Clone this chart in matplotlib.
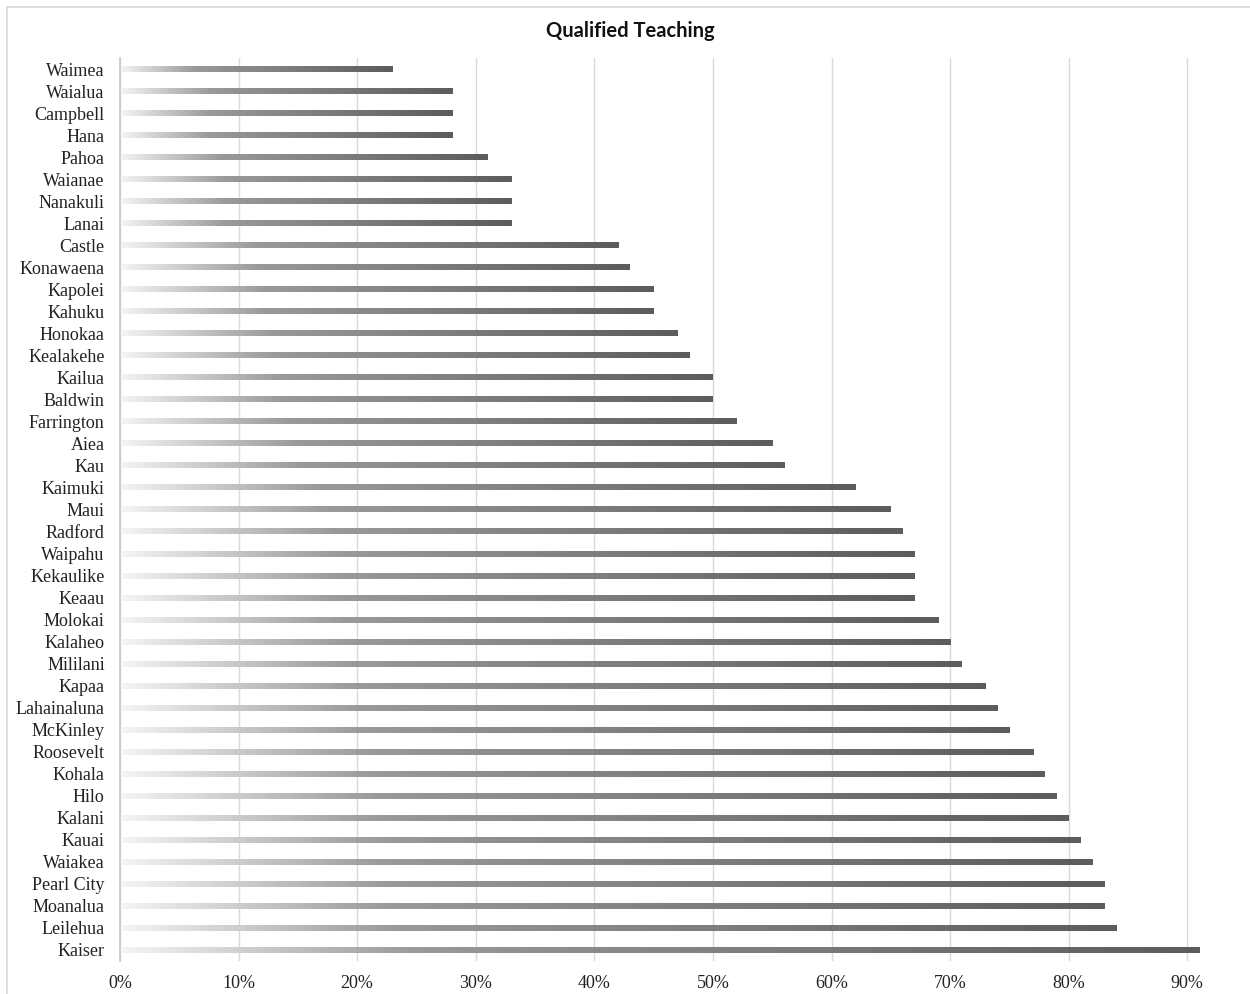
import numpy as np
import matplotlib.pyplot as plt
from matplotlib.colors import LinearSegmentedColormap
from matplotlib.patches import Rectangle
from matplotlib.ticker import PercentFormatter

schools = ['Waimea', 'Waialua', 'Campbell', 'Hana', 'Pahoa', 'Waianae', 'Nanakuli',
           'Lanai', 'Castle', 'Konawaena', 'Kapolei', 'Kahuku', 'Honokaa', 'Kealakehe',
           'Kailua', 'Baldwin', 'Farrington', 'Aiea', 'Kau', 'Kaimuki', 'Maui', 'Radford',
           'Waipahu', 'Kekaulike', 'Keaau', 'Molokai', 'Kalaheo', 'Mililani', 'Kapaa',
           'Lahainaluna', 'McKinley', 'Roosevelt', 'Kohala', 'Hilo', 'Kalani', 'Kauai',
           'Waiakea', 'Pearl City', 'Moanalua', 'Leilehua', 'Kaiser']
qualified = [0.23, 0.28, 0.28, 0.28, 0.31, 0.33, 0.33, 0.33, 0.42, 0.43, 0.45, 0.45,
             0.47, 0.48, 0.50, 0.50, 0.52, 0.55, 0.56, 0.62, 0.65, 0.66, 0.67, 0.67,
             0.67, 0.69, 0.70, 0.71, 0.73, 0.74, 0.75, 0.77, 0.78, 0.79, 0.80, 0.81,
             0.82, 0.83, 0.83, 0.84, 0.91]
ticks = np.arange(0, 1.0, 0.1)

# light-to-dark fill along each bar
fade = LinearSegmentedColormap.from_list(
    'fade', [(0.0, '#f4f4f4'), (0.27, '#9a9a9a'), (0.4, '#8e8e8e'), (1.0, '#5c5c5c')])
ramp = np.linspace(0, 1, 256).reshape(1, -1)

fig = plt.figure(figsize=(12.5, 9.94), dpi=100)
ax = fig.add_axes([120 / 1250, 1 - 961 / 994, 1110 / 1250, 903 / 994])

y = np.arange(len(schools))
bars = ax.barh(y, qualified, height=0.27, color='none', zorder=2)
for bar in bars:
    x0, y0 = bar.get_x(), bar.get_y()
    ax.imshow(ramp, cmap=fade, aspect='auto', interpolation='bilinear', zorder=2,
              extent=[x0, x0 + bar.get_width(), y0 + bar.get_height(), y0])

ax.set_ylim(len(schools) - 0.5, -0.5)
ax.set_xlim(0, 0.936)
ax.set_yticks(y)
ax.set_yticklabels(schools, family='Liberation Serif', fontsize=13)
ax.set_xticks(ticks)
ax.xaxis.set_major_formatter(PercentFormatter(1.0, decimals=0))
for lab in ax.get_xticklabels():
    lab.set_family('Liberation Serif')
    lab.set_fontsize(13)
ax.tick_params(axis='both', length=0, colors='#222222')
ax.tick_params(axis='x', pad=10)
ax.tick_params(axis='y', pad=11)

ax.grid(axis='x', color='#d9d9d9', linewidth=1, zorder=0)
ax.set_axisbelow(True)
for side in ['top', 'right', 'bottom']:
    ax.spines[side].set_visible(False)
ax.spines['left'].set_color('#c8c8c8')
ax.spines['left'].set_linewidth(1.2)

fig.text(630 / 1250, 1 - 31 / 994, 'Qualified Teaching', ha='center', va='center',
         family='Lato', fontweight='bold', fontsize=14.5, color='#111111')

# outer chart frame
fig.add_artist(Rectangle((7 / 1250, -0.1), 1.2, 1 - 7 / 994 + 0.1, transform=fig.transFigure,
                         fill=False, edgecolor='#d9d9d9', linewidth=1.2))

fig.savefig('out.png', dpi=100, facecolor='white')
